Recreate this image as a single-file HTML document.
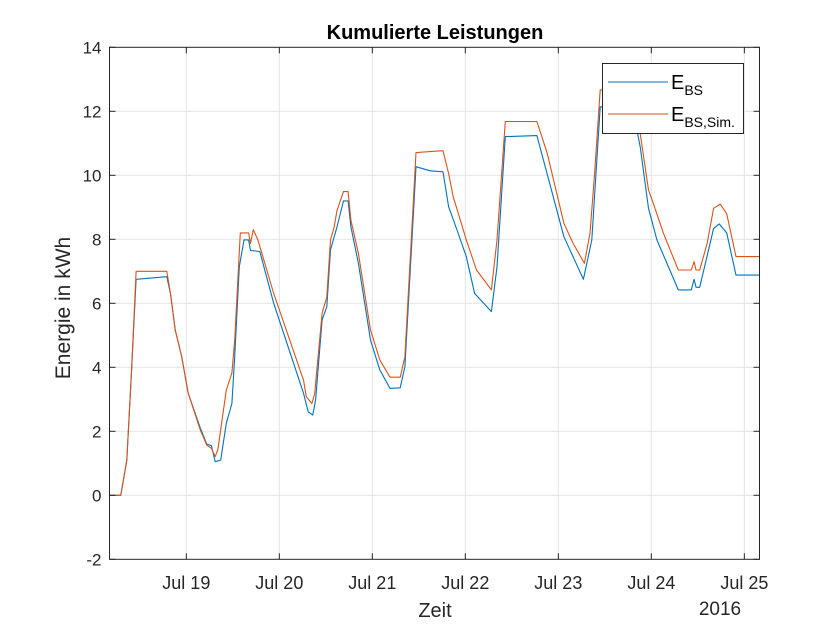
<!DOCTYPE html>
<html><head><meta charset="utf-8"><style>
body{margin:0;background:#fff;}
svg{display:block;font-family:"Liberation Sans",Arial,sans-serif;}
</style></head><body>
<svg id="chart" width="840" height="630" viewBox="0 0 840 630">
<rect width="840" height="630" fill="#fff"/>
<text x="435" y="39" text-anchor="middle" font-size="20" font-weight="bold" fill="#000">Kumulierte Leistungen</text>
<text x="0" y="0" transform="translate(70,308) rotate(-90)" text-anchor="middle" font-size="21" fill="#262626">Energie in kWh</text>
<text x="435" y="617" text-anchor="middle" font-size="20" fill="#262626">Zeit</text>
<text x="720" y="615" text-anchor="middle" font-size="19" fill="#262626">2016</text>
<g id="grid"></g>
<g id="series"></g>
<g id="axes"></g>
<g>
<rect x="602.5" y="63.5" width="141" height="70" fill="#fff" stroke="#262626" stroke-width="1"/>
<line x1="608" y1="82" x2="668" y2="82" stroke="#0072BD" stroke-width="1"/>
<text x="671" y="89" font-size="20" fill="#000">E<tspan font-size="14" dy="6">BS</tspan></text>
<line x1="608" y1="114" x2="668" y2="114" stroke="#D95319" stroke-width="1"/>
<text x="671" y="121" font-size="20" fill="#000">E<tspan font-size="14" dy="6">BS,Sim.</tspan></text>
</g>
</svg>
<script>
const yTicks=[-2,0,2,4,6,8,10,12,14];
const xTickDays=[19,20,21,22,23,24,25];
const xTickLabels=["Jul 19","Jul 20","Jul 21","Jul 22","Jul 23","Jul 24","Jul 25"];
const simDays=[18.17,18.295,18.36,18.41,18.46,18.79,18.83,18.88,18.95,19.02,19.15,19.22,19.27,19.31,19.34,19.43,19.49,19.52,19.58,19.67,19.69,19.72,19.77,19.94,20.26,20.29,20.35,20.38,20.46,20.51,20.55,20.59,20.62,20.69,20.74,20.77,20.85,20.98,21.08,21.19,21.30,21.35,21.47,21.62,21.76,21.82,21.87,22.01,22.12,22.28,22.34,22.43,22.77,22.88,23.06,23.16,23.28,23.34,23.39,23.45,23.80,23.88,23.97,24.02,24.13,24.29,24.43,24.46,24.48,24.52,24.60,24.67,24.74,24.81,24.91,25.16];
const simValues=[0,0,1.1,3.8,7.0,7.0,6.3,5.17,4.33,3.19,2.04,1.57,1.47,1.21,1.43,3.29,3.82,4.85,8.2,8.2,7.87,8.3,7.98,6.31,3.6,3.08,2.87,3.18,5.69,6.2,7.98,8.39,8.9,9.49,9.49,8.6,7.56,5.17,4.23,3.69,3.69,4.33,10.71,10.74,10.77,10.06,9.33,7.98,7.04,6.42,7.98,11.68,11.68,10.69,8.5,7.87,7.25,8.19,10.06,12.67,12.67,11.31,9.54,9.13,8.19,7.04,7.04,7.3,7.04,7.04,7.87,8.97,9.1,8.8,7.46,7.46];
const measDays=[18.17,18.295,18.36,18.41,18.46,18.79,18.83,18.88,18.95,19.02,19.15,19.22,19.27,19.31,19.37,19.43,19.49,19.52,19.57,19.62,19.67,19.69,19.79,19.94,20.26,20.31,20.36,20.39,20.46,20.51,20.55,20.62,20.69,20.74,20.77,20.85,20.98,21.08,21.19,21.30,21.35,21.47,21.62,21.76,21.82,21.91,22.01,22.10,22.28,22.34,22.43,22.77,23.06,23.27,23.36,23.45,23.80,23.88,23.97,24.06,24.29,24.43,24.46,24.48,24.52,24.67,24.73,24.81,24.91,25.16];
const measValues=[0,0,1.1,3.8,6.75,6.83,6.3,5.17,4.33,3.19,2.1,1.6,1.55,1.05,1.1,2.25,2.87,4.33,7.14,7.98,7.98,7.65,7.62,6.0,3.19,2.61,2.51,2.98,5.48,5.89,7.67,8.39,9.2,9.2,8.39,7.25,4.85,3.92,3.34,3.36,4.02,10.27,10.14,10.11,9.02,8.29,7.46,6.31,5.74,7.14,11.21,11.24,8.08,6.75,7.98,12.14,12.1,10.89,8.97,7.98,6.42,6.42,6.75,6.5,6.5,8.34,8.48,8.2,6.88,6.88];

const L=109.5,R=759.5,T=47.3,B=559.3;
const dMin=18.174,dMax=25.163,yMin=-2,yMax=14;
const xs=d=>L+(d-dMin)/(dMax-dMin)*(R-L);
const ys=v=>B-(v-yMin)/(yMax-yMin)*(B-T);
const NS="http://www.w3.org/2000/svg";
function mk(tag,attrs,parent){const e=document.createElementNS(NS,tag);for(const k in attrs)e.setAttribute(k,attrs[k]);parent.appendChild(e);return e;}
const grid=document.getElementById('grid'),axes=document.getElementById('axes'),series=document.getElementById('series');
yTicks.forEach(v=>{
  const y=ys(v);
  if(v>yMin&&v<yMax){const g=mk('line',{x1:L,x2:R,y1:y,y2:y,stroke:'#e3e3e3','stroke-width':1},grid);
  
  }
  const t=mk('line',{x1:L,x2:L+6,y1:y,y2:y,stroke:'#262626'},axes);
  
  
  const t2=mk('line',{x1:R-6,x2:R,y1:y,y2:y,stroke:'#262626'},axes);
  
  
  const lb=mk('text',{x:L-8,y:y+6,'text-anchor':'end','font-size':17,fill:'#262626'},axes);
  lb.textContent=String(v);
  
  
});
xTickDays.forEach((d,i)=>{
  const x=xs(d);
  const g=mk('line',{x1:x,x2:x,y1:T,y2:B,stroke:'#e3e3e3','stroke-width':1},grid);
  
  
  const t=mk('line',{x1:x,x2:x,y1:B,y2:B-6,stroke:'#262626'},axes);
  
  
  const t2=mk('line',{x1:x,x2:x,y1:T,y2:T+6,stroke:'#262626'},axes);
  
  
  const lb=mk('text',{x:x,y:589,'text-anchor':'middle','font-size':18,fill:'#262626'},axes);
  lb.textContent=xTickLabels[i];
  
  
});
const frame=mk('rect',{x:L,y:T,width:R-L,height:B-T,fill:'none',stroke:'#262626','stroke-width':1},axes);


function pts(ds,vs){return ds.map((d,i)=>xs(d).toFixed(1)+','+ys(vs[i]).toFixed(1)).join(' ');}
const p1=mk('polyline',{points:pts(measDays,measValues),fill:'none',stroke:'#0072BD','stroke-width':1.1,'stroke-linejoin':'round'},series);


const p2=mk('polyline',{points:pts(simDays,simValues),fill:'none',stroke:'#D95319','stroke-width':1.1,'stroke-linejoin':'round'},series);


</script>
</body></html>
